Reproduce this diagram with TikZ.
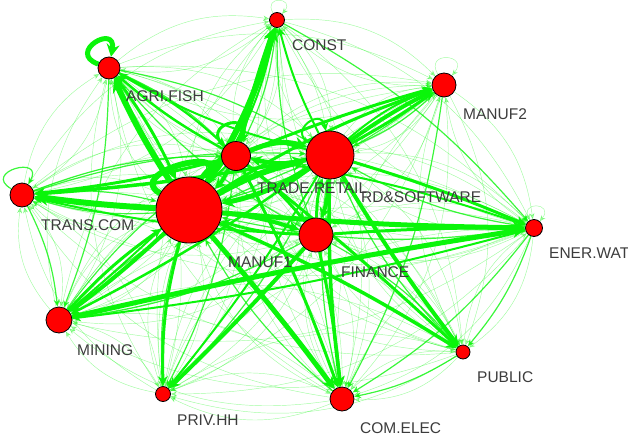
\documentclass[tikz,border=0pt]{standalone}
\usepackage{fontspec}
\setmainfont{Liberation Sans}
\usetikzlibrary{arrows.meta,backgrounds}
\definecolor{edgegreen}{RGB}{10,245,10}
\definecolor{labelgray}{RGB}{60,60,60}
\tikzset{
  vtx/.style={circle, draw=black, line width=0.8pt, fill=red, inner sep=0pt, minimum size=#1},
  lbl/.style={anchor=west, text=labelgray, inner sep=0pt, font=\fontsize{15.5}{15.5}\selectfont},
  weak/.style={draw=edgegreen, opacity=0.38, line width=0.45pt,
    -{Stealth[length=6pt,width=5pt]}},
  medium/.style={draw=edgegreen, opacity=0.8, line width=1.2pt,
    -{Stealth[length=7pt,width=6pt]}},
  heavy/.style={draw=edgegreen, line width=#1pt,
    -{Stealth[length=6pt 1.3,width=5pt 1.6]}},
}
\begin{document}
\begin{tikzpicture}[x=1pt,y=1pt]
\useasboundingbox (0,0) rectangle (628,-439);
% sectors
\node[vtx=15pt] (CONST)   at (277,-20)  {};
\node[vtx=22pt] (AGRI)    at (109,-68)  {};
\node[vtx=24pt] (MANUF2)  at (444,-85)  {};
\node[vtx=29pt] (TRADE)   at (236,-156) {};
\node[vtx=48pt] (RDS)     at (330,-155) {};
\node[vtx=24pt] (TRANS)   at (22,-195)  {};
\node[vtx=66pt] (MANUF1)  at (189,-210) {};
\node[vtx=34pt] (FIN)     at (316,-235) {};
\node[vtx=17pt] (ENER)    at (534,-228) {};
\node[vtx=26pt] (MINING)  at (59,-320)  {};
\node[vtx=14pt] (PUBLIC)  at (463,-352) {};
\node[vtx=15pt] (PRIV)    at (163,-394) {};
\node[vtx=24pt] (COMELEC) at (342,-399) {};

\begin{pgfonlayer}{background}
% every flow between two sectors
\foreach \a in {CONST,AGRI,MANUF2,TRADE,RDS,TRANS,MANUF1,FIN,ENER,MINING,PUBLIC,PRIV,COMELEC}{
  \foreach \b in {CONST,AGRI,MANUF2,TRADE,RDS,TRANS,MANUF1,FIN,ENER,MINING,PUBLIC,PRIV,COMELEC}{
    \ifx\a\b\else
      \draw[weak] (\a) to[bend left=24] (\b);
    \fi
  }
}
% medium flows
\foreach \s/\t in {CONST/MANUF1,CONST/TRADE,AGRI/TRADE,AGRI/RDS,MANUF2/RDS,MANUF2/MANUF1,
  TRANS/MANUF1,TRANS/RDS,TRANS/TRADE,FIN/MINING,FIN/PUBLIC,FIN/CONST,FIN/AGRI,
  ENER/MANUF1,ENER/RDS,ENER/COMELEC,PUBLIC/RDS,COMELEC/RDS,COMELEC/MANUF1,PRIV/MANUF1,
  MINING/RDS,MINING/TRADE,RDS/PRIV,TRADE/PRIV,MANUF2/COMELEC,CONST/ENER,AGRI/MINING,
  TRANS/MINING,MANUF1/TRANS,PUBLIC/COMELEC,ENER/PUBLIC}{
  \draw[medium] (\s) to[bend left=10] (\t);
}
% heavy flows
\foreach \s/\t/\w/\bb in {
  MANUF1/CONST/6/-8, TRADE/CONST/5/2, RDS/CONST/2/6,
  MANUF1/AGRI/6/4, TRADE/AGRI/2.5/6, RDS/AGRI/2/8,
  MANUF1/TRANS/6/2, TRADE/TRANS/3/4, RDS/TRANS/3.5/3, FIN/TRANS/2/5,
  MANUF1/MINING/4/3, MINING/MANUF1/3/6, RDS/MINING/2.5/4, TRADE/MINING/2/2,
  MINING/ENER/5/2, ENER/MINING/2/4,
  MANUF1/PRIV/3/-8, FIN/PRIV/4/2, RDS/PRIV/2/4,
  MANUF1/COMELEC/5/2, TRADE/COMELEC/3/4, RDS/COMELEC/3.5/-4, FIN/COMELEC/3/3,
  MANUF1/PUBLIC/3.5/4, RDS/PUBLIC/4/-3, TRADE/PUBLIC/3/2,
  RDS/MANUF2/4/4, RDS/MANUF2/3/-3, RDS/MANUF2/2/10, MANUF1/MANUF2/3/6, TRADE/MANUF2/3/3,
  MANUF1/ENER/5/-2, RDS/ENER/3/3, FIN/ENER/3/2, TRADE/ENER/2/5,
  MANUF1/TRADE/5/20, TRADE/MANUF1/4/10, MANUF1/RDS/6/8, RDS/MANUF1/5/10,
  TRADE/RDS/5/20, RDS/TRADE/4/12, MANUF1/FIN/4/6, FIN/MANUF1/3/8,
  RDS/FIN/4/8, FIN/RDS/3/8, TRADE/FIN/3/6,
  AGRI/MANUF1/3/6, AGRI/TRADE/2/8, CONST/MANUF1/2/12}{
  \draw[heavy=\w] (\s) to[bend left=\bb] (\t);
}
% flows of a sector into itself
\draw[heavy=6] (MANUF1) to[out=150,in=60,looseness=2.2] (MANUF1);
\draw[heavy=3] (TRADE) to[out=140,in=70,looseness=5] (TRADE);
\draw[heavy=5] (AGRI) to[out=160,in=80,looseness=6] (AGRI);
\draw[heavy=2] (RDS) to[out=150,in=100,looseness=3] (RDS);
\draw[medium] (TRANS) to[out=150,in=60,looseness=5] (TRANS);
\draw[weak] (MANUF2) to[out=120,in=50,looseness=5] (MANUF2);
\draw[weak] (ENER) to[out=120,in=50,looseness=6] (ENER);
\draw[weak] (CONST) to[out=120,in=50,looseness=6] (CONST);
\draw[weak] (FIN) to[out=130,in=60,looseness=4] (FIN);
\end{pgfonlayer}

% sector names
\node[lbl] (lCONST)   at (292,-45)  {CONST};
\node[lbl] (lAGRI)    at (126,-96)  {AGRI.FISH};
\node[lbl] (lMANUF2)  at (463,-114) {MANUF2};
\node[lbl] (lTRADE)   at (257,-188) {TRADE.RETAIL};
\node[lbl] (lRDS)     at (361,-197) {RD\&SOFTWARE};
\node[lbl] (lTRANS)   at (41,-225)  {TRANS.COM};
\node[lbl] (lMANUF1)  at (228,-262) {MANUF1};
\node[lbl] (lFIN)     at (341,-272) {FINANCE};
\node[lbl] (lENER)    at (549,-253) {ENER.WAT};
\node[lbl] (lMINING)  at (77,-350)  {MINING};
\node[lbl] (lPUBLIC)  at (477,-377) {PUBLIC};
\node[lbl] (lPRIV)    at (177,-420) {PRIV.HH};
\node[lbl] (lCOMELEC) at (360,-428) {COM.ELEC};
\end{tikzpicture}
\end{document}
